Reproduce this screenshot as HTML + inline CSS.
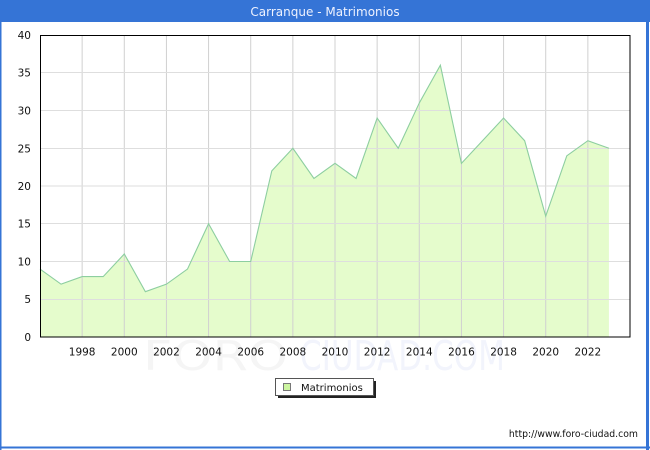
<!DOCTYPE html>
<html><head><meta charset="utf-8"><style>
html,body{margin:0;padding:0;background:#fff;}
body{width:650px;height:450px;overflow:hidden;position:relative;font-family:"DejaVu Sans","Liberation Sans",sans-serif;}
</style></head><body>
<svg width="650" height="450" viewBox="0 0 650 450" xmlns="http://www.w3.org/2000/svg" style="position:absolute;left:0;top:0;font-family:'DejaVu Sans','Liberation Sans',sans-serif;">
<rect x="0" y="0" width="650" height="450" fill="#fff"/>
<rect x="0" y="0" width="650" height="22" fill="#3574d6"/>
<rect x="0" y="0" width="1.5" height="450" fill="#3574d6"/>
<rect x="646" y="0" width="3" height="450" fill="#3574d6"/>
<rect x="0" y="446.5" width="650" height="2" fill="#3574d6"/>
<text x="325" y="16" fill="#eef2ff" font-size="12" text-anchor="middle">Carranque - Matrimonios</text>

<text x="143" y="370" font-size="41" fill="#f5f5f5" textLength="145" lengthAdjust="spacingAndGlyphs">FORO</text>
<text x="300" y="370" font-size="41" fill="#f2f4fc" textLength="205" lengthAdjust="spacingAndGlyphs">CIUDAD.COM</text>

<polygon fill="#e5fccc" points="40,337 40,269.05 61.07,284.15 82.14,276.6 103.21,276.6 124.29,253.95 145.36,291.7 166.43,284.15 187.5,269.05 208.57,223.75 229.64,261.5 250.71,261.5 271.79,170.9 292.86,148.25 313.93,178.45 335,163.35 356.07,178.45 377.14,118.05 398.21,148.25 419.29,102.95 440.36,65.2 461.43,163.35 482.5,140.7 503.57,118.05 524.64,140.7 545.71,216.2 566.79,155.8 587.86,140.7 608.93,148.25 608.93,337"/>

<g stroke="#d0d0d0" stroke-width="1">
<line x1="82.14" y1="35" x2="82.14" y2="337"/>
<line x1="124.29" y1="35" x2="124.29" y2="337"/>
<line x1="166.43" y1="35" x2="166.43" y2="337"/>
<line x1="208.57" y1="35" x2="208.57" y2="337"/>
<line x1="250.71" y1="35" x2="250.71" y2="337"/>
<line x1="292.86" y1="35" x2="292.86" y2="337"/>
<line x1="335" y1="35" x2="335" y2="337"/>
<line x1="377.14" y1="35" x2="377.14" y2="337"/>
<line x1="419.29" y1="35" x2="419.29" y2="337"/>
<line x1="461.43" y1="35" x2="461.43" y2="337"/>
<line x1="503.57" y1="35" x2="503.57" y2="337"/>
<line x1="545.71" y1="35" x2="545.71" y2="337"/>
<line x1="587.86" y1="35" x2="587.86" y2="337"/>
</g>
<g stroke="#dedede" stroke-width="1">
<line x1="40" y1="299.5" x2="630" y2="299.5"/>
<line x1="40" y1="261.5" x2="630" y2="261.5"/>
<line x1="40" y1="223.5" x2="630" y2="223.5"/>
<line x1="40" y1="186" x2="630" y2="186"/>
<line x1="40" y1="148.5" x2="630" y2="148.5"/>
<line x1="40" y1="110.5" x2="630" y2="110.5"/>
<line x1="40" y1="72.5" x2="630" y2="72.5"/>
</g>

<polyline fill="none" stroke="#8dcea0" stroke-width="1.1" points="40,269.05 61.07,284.15 82.14,276.6 103.21,276.6 124.29,253.95 145.36,291.7 166.43,284.15 187.5,269.05 208.57,223.75 229.64,261.5 250.71,261.5 271.79,170.9 292.86,148.25 313.93,178.45 335,163.35 356.07,178.45 377.14,118.05 398.21,148.25 419.29,102.95 440.36,65.2 461.43,163.35 482.5,140.7 503.57,118.05 524.64,140.7 545.71,216.2 566.79,155.8 587.86,140.7 608.93,148.25"/>

<rect x="40.5" y="35.5" width="589.5" height="301.5" fill="none" stroke="#000" stroke-width="1"/>

<g font-size="10.5" fill="#111" text-anchor="end">
<text x="31" y="341">0</text>
<text x="31" y="303">5</text>
<text x="31" y="265.5">10</text>
<text x="31" y="227.5">15</text>
<text x="31" y="190">20</text>
<text x="31" y="152.5">25</text>
<text x="31" y="114.5">30</text>
<text x="31" y="76.5">35</text>
<text x="31" y="39">40</text>
</g>
<g font-size="10.5" fill="#111" text-anchor="middle">
<text x="82.14" y="355.5">1998</text>
<text x="124.29" y="355.5">2000</text>
<text x="166.43" y="355.5">2002</text>
<text x="208.57" y="355.5">2004</text>
<text x="250.71" y="355.5">2006</text>
<text x="292.86" y="355.5">2008</text>
<text x="335" y="355.5">2010</text>
<text x="377.14" y="355.5">2012</text>
<text x="419.29" y="355.5">2014</text>
<text x="461.43" y="355.5">2016</text>
<text x="503.57" y="355.5">2018</text>
<text x="545.71" y="355.5">2020</text>
<text x="587.86" y="355.5">2022</text>
</g>

<rect x="278" y="381" width="98" height="17" fill="#222"/>
<rect x="275.5" y="378.5" width="98" height="17" fill="#fff" stroke="#555" stroke-width="1"/>
<rect x="283.5" y="383.5" width="7" height="7" fill="#ccf5a0" stroke="#777" stroke-width="1"/>
<text x="301" y="391" font-size="10" fill="#111">Matrimonios</text>

<text x="638" y="437" font-size="9.3" fill="#111" text-anchor="end">http://www.foro-ciudad.com</text>
</svg>
</body></html>
